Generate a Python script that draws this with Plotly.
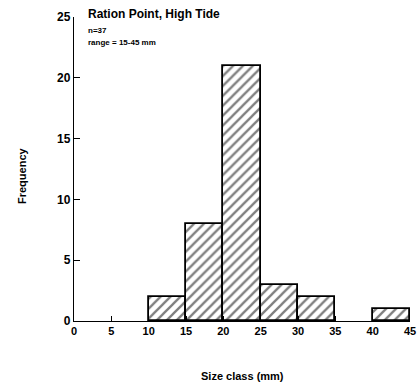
import plotly.graph_objects as go

bin_left = [10, 15, 20, 25, 30, 40]
bin_width = 5
counts = [2, 8, 21, 3, 2, 1]
x_ticks = [0, 5, 10, 15, 20, 25, 30, 35, 40, 45]
y_ticks = [0, 5, 10, 15, 20, 25]

FONT = "Liberation Sans"

fig = go.Figure()
fig.add_trace(go.Bar(
    x=[b + bin_width / 2 for b in bin_left],
    y=counts,
    width=[bin_width] * len(bin_left),
    marker=dict(
        color="white",
        line=dict(color="black", width=1.8),
        pattern=dict(shape="/", fgcolor="black", bgcolor="white", size=7, solidity=0.33),
    ),
    showlegend=False,
    hoverinfo="skip",
))

fig.update_layout(
    width=417, height=385,
    autosize=False,
    margin=dict(l=74, r=7, t=17, b=64, autoexpand=False),
    plot_bgcolor="white", paper_bgcolor="white",
    bargap=0,
    font=dict(family=FONT, color="black", size=11),
    xaxis=dict(
        range=[0, 45], tickvals=x_ticks, ticktext=[str(t) for t in x_ticks],
        automargin=False,
        showgrid=False, zeroline=False, showline=True, linecolor="black", linewidth=1.3,
        ticks="inside", ticklen=5, tickcolor="black",
        tickfont=dict(family=FONT, size=11, color="black", weight="bold"),
    ),
    yaxis=dict(
        range=[0, 25], tickvals=y_ticks,
        automargin=False,
        showgrid=False, zeroline=False, showline=True, linecolor="black", linewidth=1.3,
        ticks="inside", ticklen=6, tickcolor="black",
        tickfont=dict(family=FONT, size=12, color="black", weight="bold"),
    ),
    annotations=[
        dict(text="Ration Point, High Tide", x=0.035, y=1.01, xref="paper", yref="paper",
             xanchor="left", yanchor="middle", showarrow=False,
             font=dict(family=FONT, size=12, weight="bold")),
        dict(text="n=37", x=0.035, y=0.955, xref="paper", yref="paper",
             xanchor="left", yanchor="middle", showarrow=False,
             font=dict(family=FONT, size=8, weight="bold")),
        dict(text="range = 15-45 mm", x=0.035, y=0.915, xref="paper", yref="paper",
             xanchor="left", yanchor="middle", showarrow=False,
             font=dict(family=FONT, size=8, weight="bold")),
        dict(text="Size class (mm)", x=0.5, y=-0.18, xref="paper", yref="paper",
             xanchor="center", yanchor="middle", showarrow=False,
             font=dict(family=FONT, size=11, weight="bold")),
        dict(text="Frequency", x=-0.155, y=0.48, xref="paper", yref="paper",
             xanchor="center", yanchor="middle", showarrow=False, textangle=-90,
             font=dict(family=FONT, size=11, weight="bold")),
    ],
)

fig.write_html(
    "out.html",
    config={"displayModeBar": False},
    post_script="document.body.style.margin='0';document.body.style.overflow='hidden';",
)
